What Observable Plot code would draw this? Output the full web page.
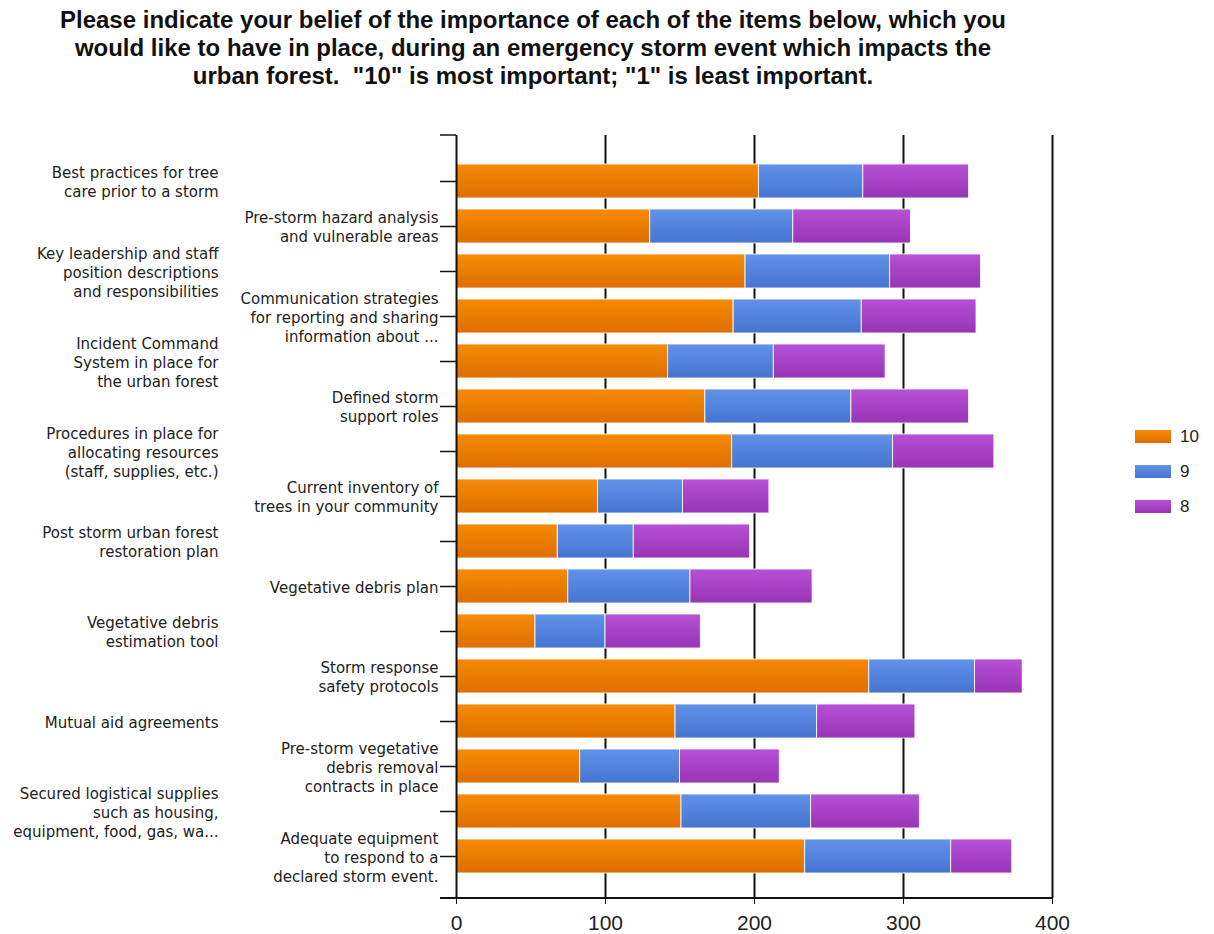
<!DOCTYPE html>
<html><head><meta charset="utf-8">
<script src="https://cdn.jsdelivr.net/npm/d3@7"></script>
<script src="https://cdn.jsdelivr.net/npm/@observablehq/plot@0.6"></script>
<style>
body{margin:0;background:#fff;width:1214px;height:934px;overflow:hidden;position:relative;font-family:"Liberation Sans",Arial,sans-serif;}
#title{box-sizing:border-box;height:110px;width:1066px;padding-top:6px;text-align:center;font-weight:bold;font-size:24px;line-height:28px;color:#111;}
#legend{position:absolute;left:1135px;top:419px;font-family:"Liberation Sans",Arial,sans-serif;font-size:17px;color:#222;}
.item{display:flex;align-items:center;height:35px;}
.sw{width:36px;height:13px;margin-right:9px;}
</style></head>
<body>
<div id="title">Please indicate your belief of the importance of each of the items below, which you<br>would like to have in place, during an emergency storm event which impacts the<br>urban forest.&nbsp; "10" is most important; "1" is least important.</div>
<div id="chart"></div>
<div id="legend"></div>
<script>
const categories = [
  "Best practices for tree\ncare prior to a storm",
  "Pre-storm hazard analysis\nand vulnerable areas",
  "Key leadership and staff\nposition descriptions\nand responsibilities",
  "Communication strategies\nfor reporting and sharing\ninformation about ...",
  "Incident Command\nSystem in place for\nthe urban forest",
  "Defined storm\nsupport roles",
  "Procedures in place for\nallocating resources\n(staff, supplies, etc.)",
  "Current inventory of\ntrees in your community",
  "Post storm urban forest\nrestoration plan",
  "Vegetative debris plan",
  "Vegetative debris\nestimation tool",
  "Storm response\nsafety protocols",
  "Mutual aid agreements",
  "Pre-storm vegetative\ndebris removal\ncontracts in place",
  "Secured logistical supplies\nsuch as housing,\nequipment, food, gas, wa...",
  "Adequate equipment\nto respond to a\ndeclared storm event."
];
const seriesNames = ["10", "9", "8"];
const s10 = [203, 130, 194, 186, 142, 167, 185, 95, 68, 75, 53, 277, 147, 83, 151, 234];
const s9  = [70, 96, 97, 86, 71, 98, 108, 57, 51, 82, 47, 71, 95, 67, 87, 98];
const s8  = [71, 79, 61, 77, 75, 79, 68, 58, 78, 82, 64, 32, 66, 67, 73, 41];
const xTicks = [0, 100, 200, 300, 400];
const colors = {"10": ["#F78A06", "#DF6E00"], "9": ["#6192E8", "#4674CF"], "8": ["#B650D6", "#9834B6"]};

const seriesValues = {"10": s10, "9": s9, "8": s8};
const rows = [];
categories.forEach((c, i) => seriesNames.forEach(s => rows.push({cat: c, s, v: seriesValues[s][i]})));

const defsMark = () => {
  const d = d3.create("svg:defs");
  seriesNames.forEach(s => {
    const g = d.append("linearGradient").attr("id", "g" + s).attr("x1", 0).attr("y1", 0).attr("x2", 0).attr("y2", 1);
    g.append("stop").attr("offset", "0%").attr("stop-color", colors[s][0]);
    g.append("stop").attr("offset", "100%").attr("stop-color", colors[s][1]);
  });
  return d.node();
};
const frameLines = (index, scales, values, dims) => {
  const g = d3.create("svg:g").attr("stroke", "#111");
  const L = dims.marginLeft, B = dims.height - dims.marginBottom, T = dims.marginTop, R = dims.width - dims.marginRight;
  g.append("line").attr("x1", L - 16).attr("x2", R).attr("y1", B).attr("y2", B).attr("stroke-width", 2);
  g.append("line").attr("x1", L - 16).attr("x2", L).attr("y1", T).attr("y2", T).attr("stroke-width", 1.5);
  return g.node();
};

const labelFont = {fontSize: 15, fontFamily: "'DejaVu Sans', sans-serif", fill: "#222", lineHeight: 1.267};
const plot = Plot.plot({
  width: 1214,
  height: 824,
  marginLeft: 456,
  marginRight: 162,
  marginTop: 25,
  marginBottom: 36,
  insetTop: 17,
  insetBottom: 14,
  x: {domain: [0, 400], label: null},
  y: {domain: categories, padding: 0.245, label: null},
  color: {domain: seriesNames, range: seriesNames.map(s => `url(#g${s})`)},
  style: {fontFamily: "'Liberation Sans', Arial, sans-serif", background: "#fff"},
  marks: [
    defsMark,
    Plot.ruleX(xTicks.slice(1), {stroke: "#111", strokeWidth: 2}),
    Plot.barX(rows, Plot.stackX({y: "cat", x: "v", fill: "s", stroke: "#fff", strokeWidth: 1, strokeOpacity: 0.85})),
    Plot.ruleX([0], {stroke: "#111", strokeWidth: 2}),
    Plot.axisY({tickSize: 16, tickFormat: () => "", stroke: "#111", strokeWidth: 1.5, label: null}),
    Plot.text(categories.filter((d, i) => i % 2 === 0), {y: d => d, frameAnchor: "left", textAnchor: "end", lineAnchor: "middle", dx: -238, ...labelFont}),
    Plot.text(categories.filter((d, i) => i % 2 === 1), {y: d => d, frameAnchor: "left", textAnchor: "end", lineAnchor: "middle", dx: -18, ...labelFont}),
    Plot.axisX({ticks: xTicks, tickSize: 6, tickPadding: 11, fontSize: 21, stroke: "#111", fill: "#222", label: null}),
    frameLines
  ]
});
document.getElementById("chart").append(plot);

const legend = d3.select("#legend");
seriesNames.forEach(s => {
  const it = legend.append("div").attr("class", "item");
  it.append("div").attr("class", "sw").style("background", `linear-gradient(${colors[s][0]}, ${colors[s][1]})`);
  it.append("span").text(s);
});
</script>
</body></html>
